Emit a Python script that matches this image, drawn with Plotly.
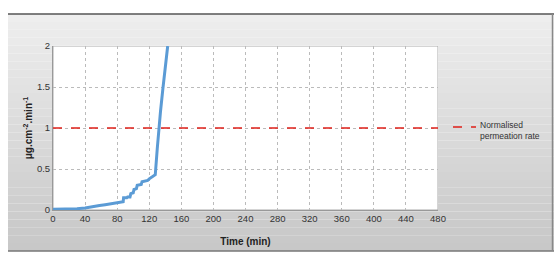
import plotly.graph_objects as go

# Data
time_min = [0, 20, 30, 40, 45, 50, 58, 65, 72, 80, 86, 87.5, 88, 92, 93, 96, 97, 100, 101, 104, 105, 110, 111, 118, 120, 126, 127.5, 130, 132, 134, 137, 140, 143]
rate = [0.01, 0.01, 0.015, 0.025, 0.035, 0.045, 0.055, 0.065, 0.075, 0.09, 0.1, 0.1, 0.15, 0.15, 0.16, 0.16, 0.2, 0.21, 0.25, 0.26, 0.3, 0.31, 0.345, 0.36, 0.38, 0.42, 0.43, 0.75, 1.02, 1.2, 1.48, 1.75, 2.0]
norm_x = [0, 480]
norm_y = [1, 1]
norm_name = "Normalised<br>permeation rate"
x_ticks = list(range(0, 481, 40))
y_ticks = [0, 0.5, 1, 1.5, 2]
y_tick_labels = ["0", "0.5", "1", "1.5", "2"]

# plot area in pixels (for converting the panel's pixel edges to paper units)
L, R, T, B = 53, 438, 46, 210
W, H = 554, 257
def px(x):
    return (x - L) / (R - L)
def py(y):
    return (B - y) / (B - T)

RED = "#e0201a"
fig = go.Figure()
fig.add_trace(go.Scatter(x=time_min, y=rate, mode="lines", showlegend=False,
                         line=dict(color="#5b9bd5", width=3)))
fig.add_trace(go.Scatter(x=norm_x, y=norm_y, mode="lines", showlegend=False,
                         name=norm_name,
                         line=dict(color=RED, width=1.5, dash="dash")))

# gray gradient panel behind the chart
shapes = []
n = 30
top_px, bot_px = 14, 251
for i in range(n):
    ya = top_px + (bot_px - top_px) * i / n
    yb = top_px + (bot_px - top_px) * (i + 1) / n
    g = int(238 - (238 - 200) * i / (n - 1))
    shapes.append(dict(type="rect", xref="paper", yref="paper", layer="below",
                       x0=px(8), x1=px(W), y0=py(yb), y1=py(ya),
                       fillcolor=f"rgb({g},{g},{g})", line=dict(width=0)))
shapes.append(dict(type="line", xref="paper", yref="paper", layer="below",
                   x0=px(8), x1=px(W), y0=py(top_px), y1=py(top_px),
                   line=dict(color="#555", width=1.5)))
shapes.append(dict(type="line", xref="paper", yref="paper", layer="below",
                   x0=px(8), x1=px(W), y0=py(bot_px), y1=py(bot_px),
                   line=dict(color="#777", width=1.5)))
shapes.append(dict(type="line", xref="paper", yref="paper", layer="below",
                   x0=px(552.5), x1=px(552.5), y0=py(bot_px), y1=py(top_px),
                   line=dict(color="#888", width=1.5)))
shapes.append(dict(type="rect", xref="x", yref="y", layer="below",
                   x0=0, x1=480, y0=0, y1=2, fillcolor="white",
                   line=dict(color="#aaa", width=1)))
# legend key (drawn manually so the plot area keeps its size)
shapes.append(dict(type="line", xref="paper", yref="paper",
                   x0=px(453), x1=px(476), y0=py(127), y1=py(127),
                   line=dict(color=RED, width=1.5, dash="dash")))

annotations = [dict(text=norm_name, xref="paper", yref="paper",
                    x=px(478), y=py(118), xanchor="left", yanchor="top",
                    align="left", showarrow=False,
                    font=dict(size=8.5, color="#333"))]

fig.update_layout(
    width=W, height=H,
    margin=dict(l=L, r=W - R, t=T, b=H - B),
    paper_bgcolor="white", plot_bgcolor="rgba(0,0,0,0)",
    shapes=shapes, annotations=annotations, showlegend=False,
    font=dict(family="Liberation Sans, Arial", size=9.5, color="#333"),
    xaxis=dict(range=[0, 480], tickvals=x_ticks, showgrid=True,
               gridcolor="#bbb", griddash="dot", gridwidth=1,
               zeroline=False, showline=True, linecolor="#999",
               ticks="", title=dict(text="<b>Time (min)</b>", font=dict(size=10, color="#222"), standoff=14)),
    yaxis=dict(range=[0, 2], tickvals=y_ticks, ticktext=y_tick_labels,
               showgrid=True, gridcolor="#bbb", griddash="dot", gridwidth=1,
               zeroline=False, showline=True, linecolor="#999", ticks="",
               title=dict(text="<b>μg.cm<sup>-2</sup>.min<sup>-1</sup></b>", font=dict(size=10, color="#222"), standoff=2)),
)
fig.write_html("out.html")
